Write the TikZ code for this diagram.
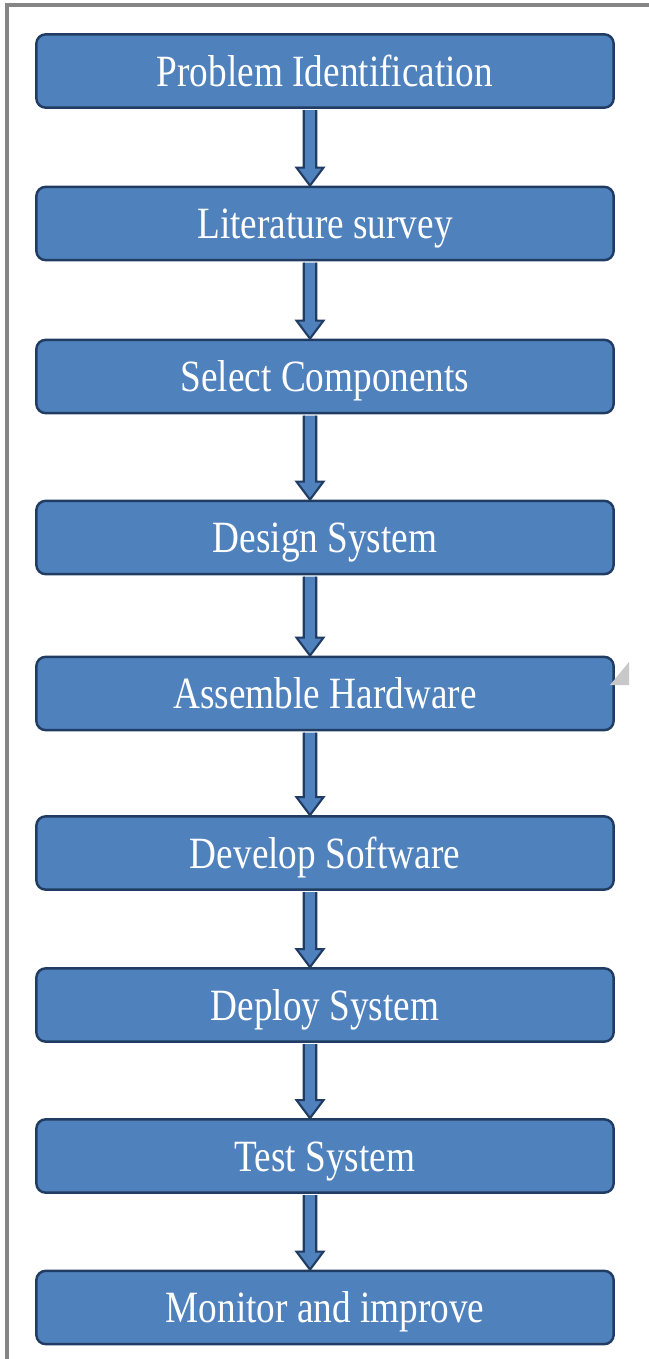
\documentclass[tikz,border=0pt]{standalone}
\usepackage{fontspec}
\setmainfont{Liberation Serif}
\usepackage{graphicx}
\usetikzlibrary{calc}
\definecolor{boxblue}{HTML}{4F81BD}
\definecolor{boxedge}{HTML}{213C62}
\definecolor{framegray}{HTML}{858585}
\definecolor{markgray}{HTML}{C8C8C8}
\newcommand{\steptext}[1]{\scalebox{1}[1.2]{#1}}
\tikzset{
  stepbox/.style={draw=boxedge, fill=boxblue, line width=2.1pt, rounded corners=8pt,
    minimum width=17.32cm, minimum height=2.2cm, inner sep=0pt,
    text height=26pt, text depth=0pt, text=white, font=\fontsize{31.8}{38}\selectfont},
  blockarrow/.style={draw=boxedge, fill=boxblue, line width=1.8pt, line join=miter}
}

\begin{document}
\begin{tikzpicture}[x=0.03cm, y=0.03cm]
  \useasboundingbox (0,0) rectangle (649,-1359);
  % frame
  \draw[framegray, line width=3.2pt] (7,-1359) -- (7,-5) -- (649,-5);

  \node[stepbox] (prob)    at (325,-71)    {\steptext{Problem Identification}};
  \node[stepbox] (lit)     at (325,-223.5) {\steptext{Literature survey}};
  \node[stepbox] (comp)    at (325,-376.5) {\steptext{Select Components}};
  \node[stepbox] (design)  at (325,-537.5) {\steptext{Design System}};
  \node[stepbox] (hw)      at (325,-693.5) {\steptext{Assemble Hardware}};
  \node[stepbox] (sw)      at (325,-853)   {\steptext{Develop Software}};
  \node[stepbox] (deploy)  at (325,-1005)  {\steptext{Deploy System}};
  \node[stepbox] (test)    at (325,-1156)  {\steptext{Test System}};
  \node[stepbox] (monitor) at (325,-1307.5){\steptext{Monitor and improve}};

  \coordinate (ax) at (310,0);
  \foreach \a/\b in {prob/lit, lit/comp, comp/design, design/hw, hw/sw, sw/deploy, deploy/test, test/monitor}{
    \draw[blockarrow] ($(\a.south -| ax)+(-6.2,-1.3)$) -- ($(\b.north -| ax)+(-6.2,18)$)
      -- ($(\b.north -| ax)+(-13.5,18)$) -- (\b.north -| ax) -- ($(\b.north -| ax)+(13.5,18)$)
      -- ($(\b.north -| ax)+(6.2,18)$) -- ($(\a.south -| ax)+(6.2,-1.3)$);
  }

  % small grey mark
  \fill[markgray] (610,-685) -- (629,-685) -- (629,-662) -- cycle;
\end{tikzpicture}
\end{document}
